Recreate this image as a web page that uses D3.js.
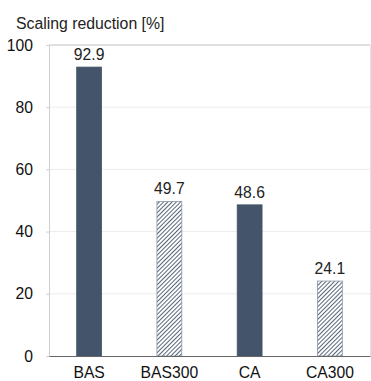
<!DOCTYPE html>
<html><head><meta charset="utf-8">
<script src="https://cdn.jsdelivr.net/npm/d3@7"></script>
<style>body{margin:0;background:#fff}svg{display:block}</style>
</head><body>
<script>
const categories = ["BAS", "BAS300", "CA", "CA300"];
const values = [92.9, 49.7, 48.6, 24.1];
const hatched = [false, true, false, true];
const yTicks = [0, 20, 40, 60, 80, 100];
const title = "Scaling reduction [%]";

const W = 371, H = 381;
const m = {left: 49, right: 1, top: 45, bottom: 25};
const svg = d3.select("body").append("svg").attr("width", W).attr("height", H);
const font = "'Liberation Sans', Arial, sans-serif";
const fs = 15.7;

const defs = svg.append("defs");
const pat = defs.append("pattern").attr("id", "hatch").attr("patternUnits", "userSpaceOnUse")
  .attr("width", 3).attr("height", 3).attr("patternTransform", "rotate(45)");
pat.append("rect").attr("width", 3).attr("height", 3).attr("fill", "#fff");
pat.append("line").attr("x1", 0).attr("y1", 0).attr("x2", 0).attr("y2", 3)
  .attr("stroke", "#44546A").attr("stroke-width", 1.8);

const x = d3.scaleBand().domain(categories).range([m.left, W - m.right]).paddingInner(0.69).paddingOuter(0.345);
const y = d3.scaleLinear().domain([0, 100]).range([H - m.bottom, m.top]);

// gridlines
svg.append("g").selectAll("line").data(yTicks.filter(d => d > 0)).join("line")
  .attr("x1", m.left).attr("x2", W - m.right)
  .attr("y1", d => y(d)).attr("y2", d => y(d))
  .attr("stroke", d => d === 100 ? "#bfbfbf" : "#ececec").attr("stroke-width", 1);
// right edge
svg.append("line").attr("x1", W - m.right + 0.5).attr("x2", W - m.right + 0.5)
  .attr("y1", y(100)).attr("y2", y(0)).attr("stroke", "#e4e4e4");

// y axis
const yAxis = svg.append("g").attr("transform", `translate(${m.left},0)`)
  .call(d3.axisLeft(y).tickValues(yTicks).tickSize(3).tickPadding(13));
yAxis.select(".domain").attr("stroke", "#c9d0d8");
yAxis.selectAll(".tick line").attr("stroke", "#c9d0d8");
yAxis.selectAll("text").attr("font-family", font).attr("font-size", fs).attr("fill", "#111");

// bars
svg.append("g").selectAll("rect").data(categories).join("rect")
  .attr("x", d => x(d)).attr("width", x.bandwidth())
  .attr("y", (d, i) => y(values[i])).attr("height", (d, i) => y(0) - y(values[i]))
  .attr("fill", (d, i) => hatched[i] ? "url(#hatch)" : "#44546A")
  .attr("stroke", (d, i) => hatched[i] ? "#8a96a8" : "#44546A").attr("stroke-width", 0.8);

// x axis
const xAxis = svg.append("g").attr("transform", `translate(0,${y(0)})`)
  .call(d3.axisBottom(x).tickSize(0).tickPadding(10.5));
xAxis.select(".domain").attr("stroke", "#666").attr("stroke-width", 1.2);
xAxis.selectAll("text").attr("font-family", font).attr("font-size", fs).attr("fill", "#111");

// value labels
svg.append("g").selectAll("text").data(categories).join("text")
  .attr("x", d => x(d) + x.bandwidth() / 2).attr("y", (d, i) => y(values[i]) - 7)
  .attr("text-anchor", "middle").attr("font-family", font).attr("font-size", fs).attr("fill", "#222")
  .text((d, i) => values[i].toFixed(1));

svg.append("text").attr("x", 16).attr("y", 28.5).attr("font-family", font).attr("font-size", 15.8)
  .attr("fill", "#222").text(title);
</script>
</body></html>
